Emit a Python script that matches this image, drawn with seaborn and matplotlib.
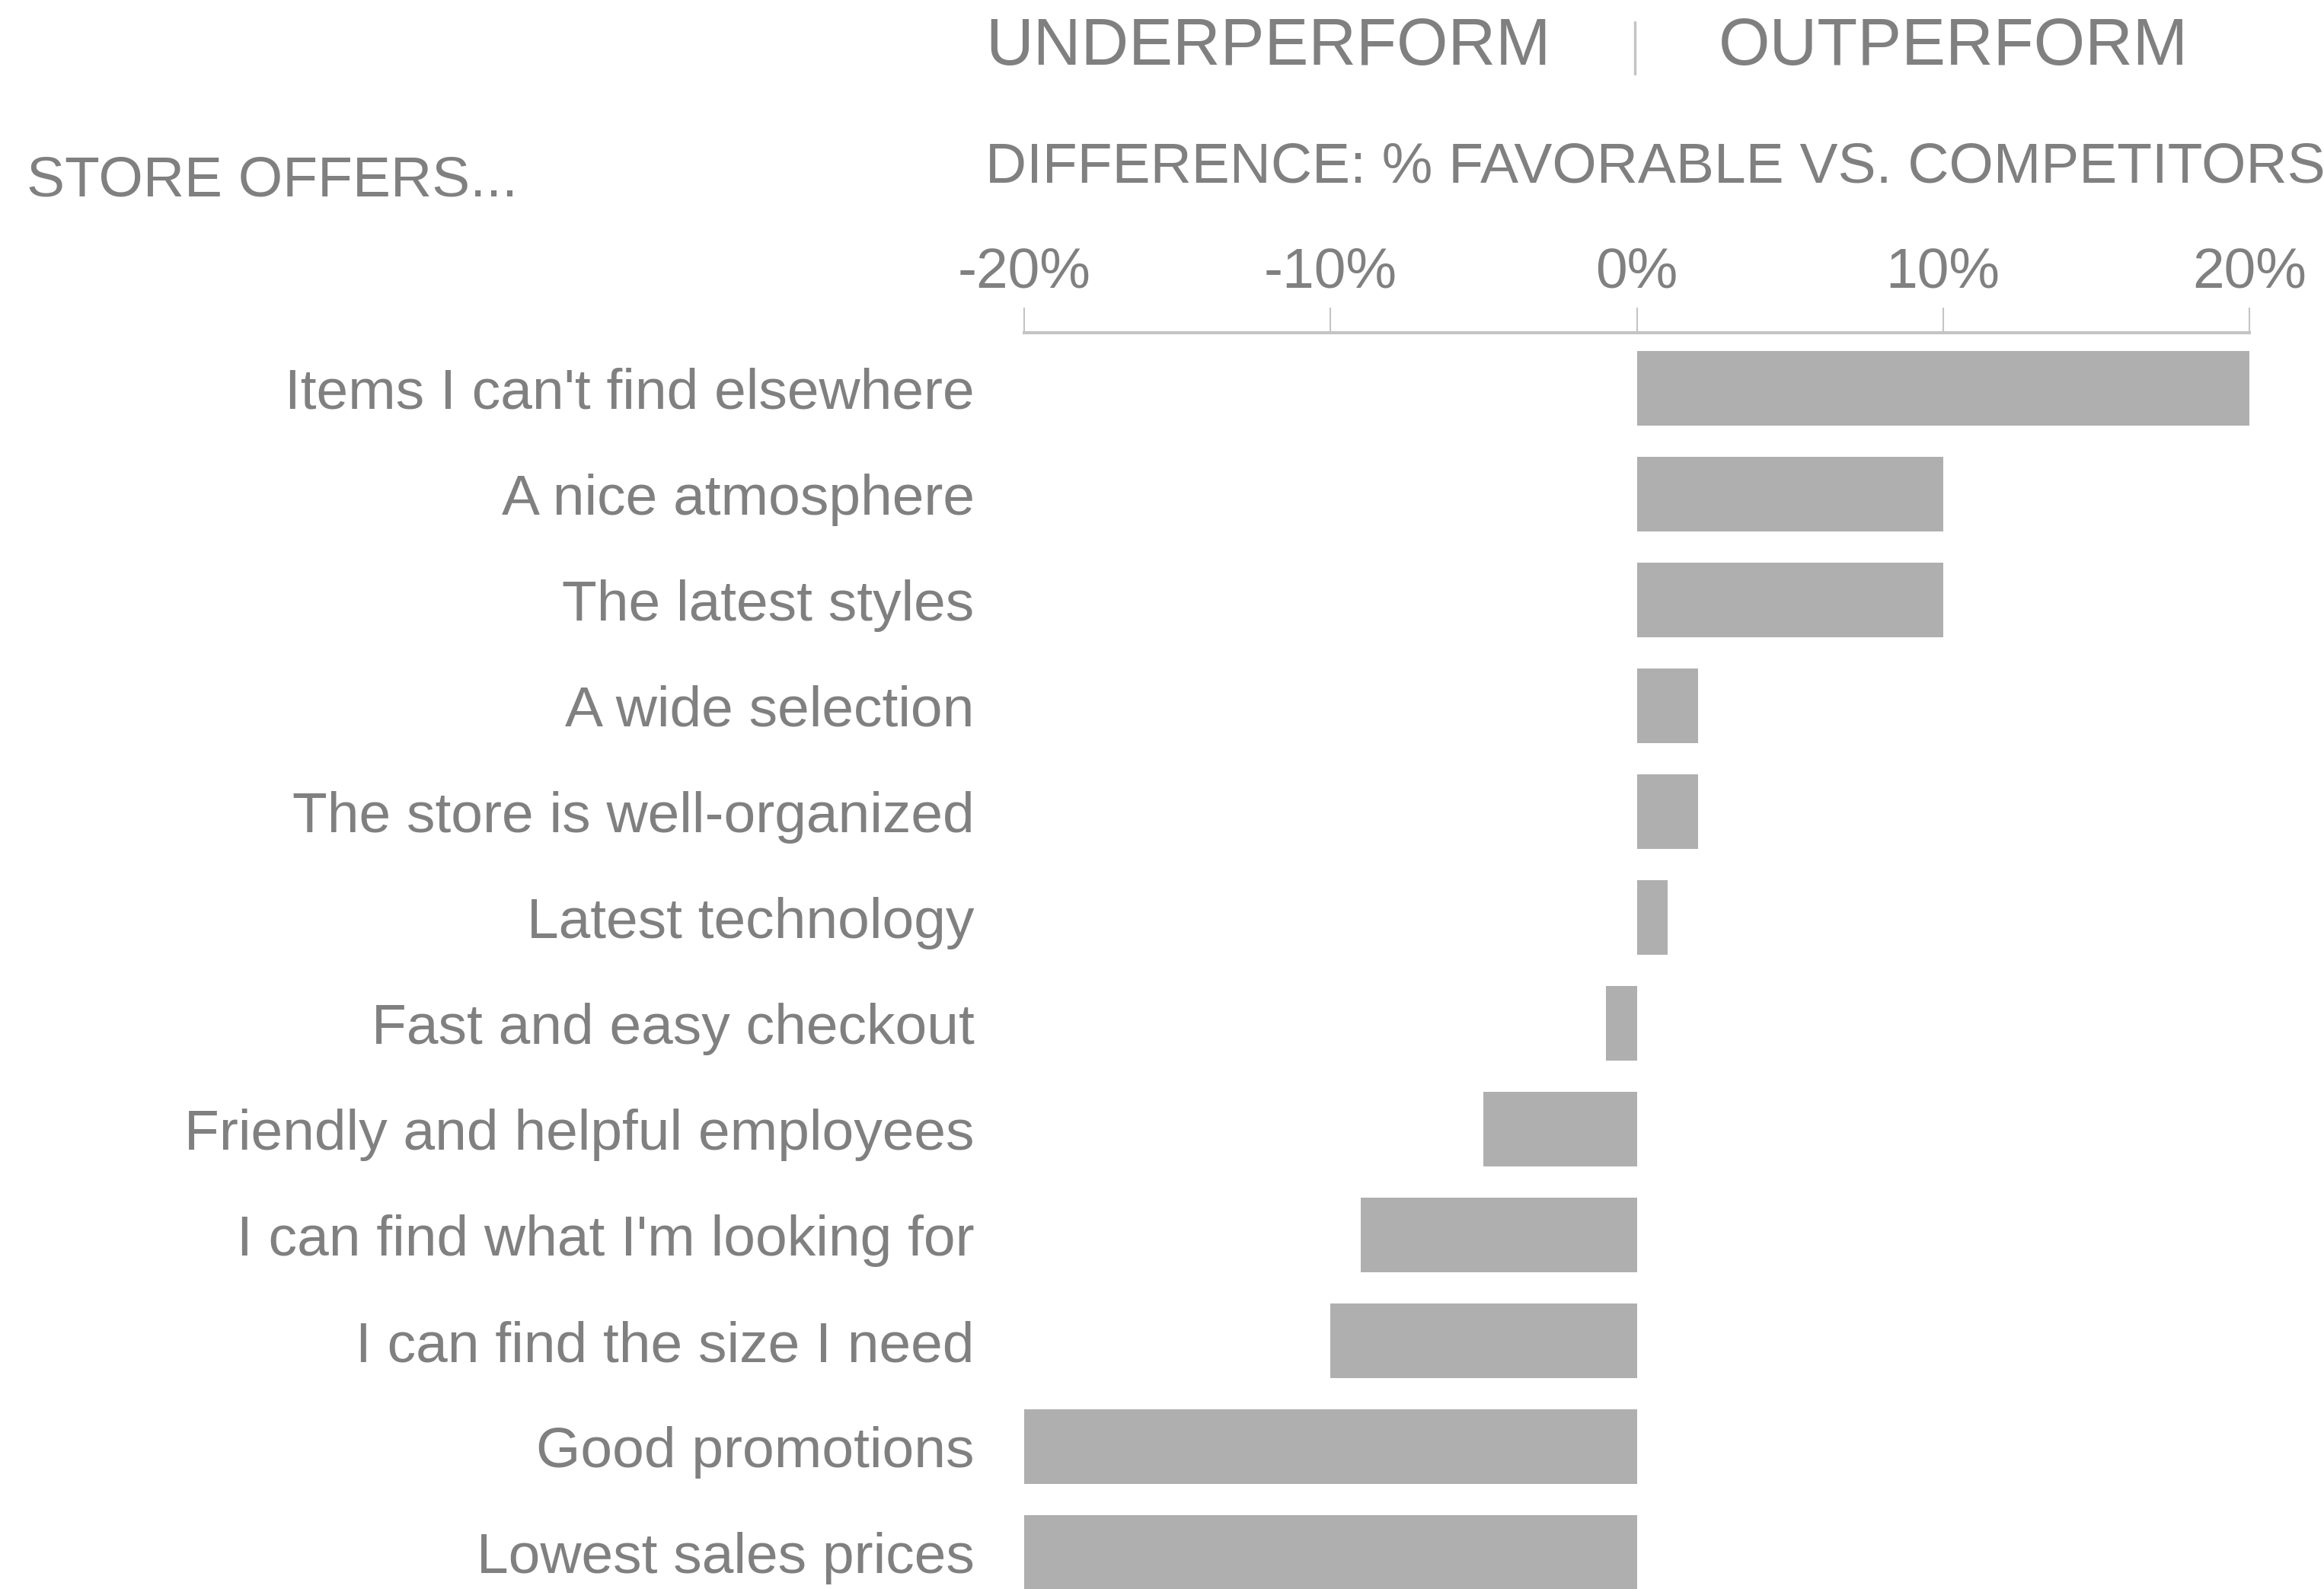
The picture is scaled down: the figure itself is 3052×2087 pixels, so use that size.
import matplotlib
matplotlib.use("Agg")
import matplotlib.pyplot as plt
from matplotlib.ticker import FuncFormatter
import pandas as pd
import seaborn as sns

# Survey attributes and the gap in % favorable versus competitors
categories = [
    "Items I can't find elsewhere",
    "A nice atmosphere",
    "The latest styles",
    "A wide selection",
    "The store is well-organized",
    "Latest technology",
    "Fast and easy checkout",
    "Friendly and helpful employees",
    "I can find what I'm looking for",
    "I can find the size I need",
    "Good promotions",
    "Lowest sales prices",
]
differences = [20, 10, 10, 2, 2, 1, -1, -5, -9, -10, -20, -20]
tick_values = [-20, -10, 0, 10, 20]

TEXT = "#808080"
BAR = "#afafaf"
RULE = "#c4c4c4"

sns.set_theme(style="white")
plt.rcParams["font.family"] = ["Liberation Sans", "DejaVu Sans"]

df = pd.DataFrame({"attribute": categories, "diff": differences})

fig = plt.figure(figsize=(30.52, 20.87), dpi=100)
ax = fig.add_axes([1345 / 3052, 0.0, (2954 - 1345) / 3052, 1 - 437 / 2087])

sns.barplot(data=df, x="diff", y="attribute", orient="h", color=BAR,
            saturation=1, width=0.7, ax=ax, linewidth=0)

ax.set_xlim(-20, 20)
ax.set_ylim(11.345, -0.525)
ax.set_xlabel("")
ax.set_ylabel("")

ax.xaxis.tick_top()
ax.set_xticks(tick_values)
ax.xaxis.set_major_formatter(FuncFormatter(lambda v, p: f"{int(round(v))}%"))
ax.tick_params(axis="x", length=24, width=1.5, color=RULE, labelsize=54,
               labelcolor=TEXT, pad=8)
ax.tick_params(axis="y", length=0, labelsize=54, labelcolor=TEXT, pad=47)

for side in ["bottom", "left", "right"]:
    ax.spines[side].set_visible(False)
ax.spines["top"].set_color(RULE)
ax.spines["top"].set_linewidth(3)

# Header annotations
fig.text(35 / 3052, 1 - 238 / 2087, "STORE OFFERS...", fontsize=54,
         color=TEXT, ha="left", va="center")
fig.text(1294 / 3052, 1 - 220 / 2087, "DIFFERENCE: % FAVORABLE VS. COMPETITORS",
         fontsize=54, color=TEXT, ha="left", va="center")
fig.text(1294 / 3052, 1 - 62 / 2087, "UNDERPERFORM", fontsize=62.5,
         color=TEXT, ha="left", va="center")
fig.text(2257 / 3052, 1 - 62 / 2087, "OUTPERFORM", fontsize=62.5,
         color=TEXT, ha="left", va="center")
fig.add_artist(plt.Line2D([2147 / 3052, 2147 / 3052], [1 - 29 / 2087, 1 - 97 / 2087],
                          transform=fig.transFigure, color=RULE, linewidth=2.5))

fig.savefig("out.png", dpi=100, facecolor="white")
